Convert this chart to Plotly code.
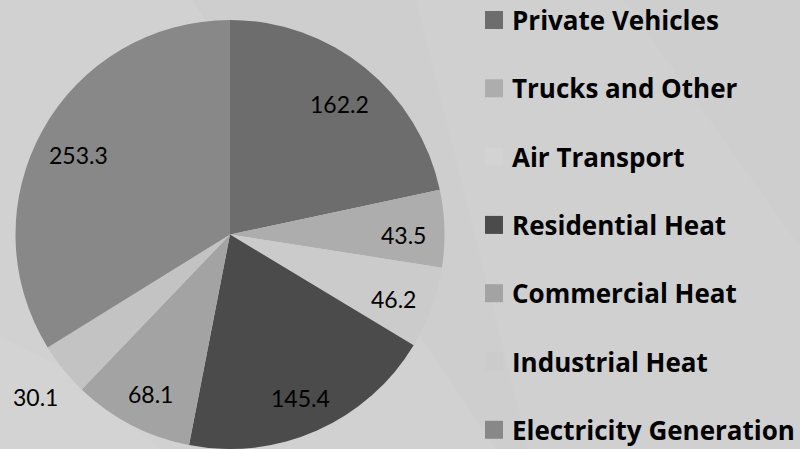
import math
import plotly.graph_objects as go

categories = ["Private Vehicles", "Trucks and Other", "Air Transport", "Residential Heat",
              "Commercial Heat", "Industrial Heat", "Electricity Generation"]
values = [162.2, 43.5, 46.2, 145.4, 68.1, 30.1, 253.3]
value_labels = ["162.2", "43.5", "46.2", "145.4", "68.1", "30.1", "253.3"]
slice_colors = ["#6d6d6d", "#adadad", "#cbcbcb", "#4b4b4b", "#a3a3a3", "#c3c3c3", "#888888"]
legend_colors = ["#6d6d6d", "#adadad", "#d3d3d3", "#4b4b4b", "#a3a3a3", "#cbcbcb", "#888888"]
outside_labels = ["Industrial Heat"]

W, H = 800, 449
CX, CY, R = 230, 234.5, 214.5  # pie centre / radius in pixels (layout)

fig = go.Figure()
fig.add_trace(go.Pie(
    labels=categories, values=values, sort=False, direction="clockwise", rotation=0,
    marker=dict(colors=slice_colors, line=dict(width=0)),
    textinfo="none", hoverinfo="label+value", showlegend=False,
    domain=dict(x=[(CX - R) / W, (CX + R) / W], y=[0, (2 * R) / H]),
))

# data labels placed along each slice's mid-angle
total = sum(values)
cum = 0.0
annotations = []
for cat, v, txt in zip(categories, values, value_labels):
    mid = (cum + v / 2) / total * 2 * math.pi
    cum += v
    rf = 1.17 if cat in outside_labels else 0.81
    px = CX + rf * R * math.sin(mid)
    py = CY - rf * R * math.cos(mid) + 5
    annotations.append(dict(x=px / W, y=1 - py / H, xref="paper", yref="paper", text=txt,
                            showarrow=False, xanchor="center", yanchor="middle",
                            font=dict(family="Lato", size=23, color="#000000")))

shapes = []
# subtle background bands
shapes.append(dict(type="path", xref="paper", yref="paper", layer="below",
                   path="M 0 1 L 0.24 1 L 0.62 0 L 0 0 Z",
                   fillcolor="rgba(255,255,255,0.08)", line=dict(width=0)))
shapes.append(dict(type="path", xref="paper", yref="paper", layer="below",
                   path="M 0.52 1 L 0.78 1 L 1 0.45 L 1 0 L 0.66 0 Z",
                   fillcolor="rgba(255,255,255,0.06)", line=dict(width=0)))
shapes.append(dict(type="path", xref="paper", yref="paper", layer="below",
                   path="M 0 0.25 L 0.08 0.18 L 0.2 0 L 0 0 Z",
                   fillcolor="rgba(255,255,255,0.06)", line=dict(width=0)))

# manual legend
y0, step = 20.0, 68.3
for i, (cat, col) in enumerate(zip(categories, legend_colors)):
    yc = y0 + i * step
    shapes.append(dict(type="rect", xref="paper", yref="paper",
                       x0=485 / W, x1=503 / W, y0=1 - (yc - 9) / H, y1=1 - (yc + 9) / H,
                       fillcolor=col, line=dict(width=0)))
    annotations.append(dict(x=510 / W, y=1 - (yc + 0) / H, xref="paper", yref="paper",
                            text="<b>" + cat + "</b>", showarrow=False,
                            xanchor="left", yanchor="middle",
                            font=dict(family="Open Sans", size=26, color="#000000")))

fig.update_layout(
    width=W, height=H, margin=dict(l=0, r=0, t=0, b=0),
    paper_bgcolor="#cecece", plot_bgcolor="#cecece",
    shapes=shapes, annotations=annotations,
)
fig.write_html("out.html", config={"displayModeBar": False},
               post_script="document.body.style.margin='0';document.body.style.overflow='hidden';")
